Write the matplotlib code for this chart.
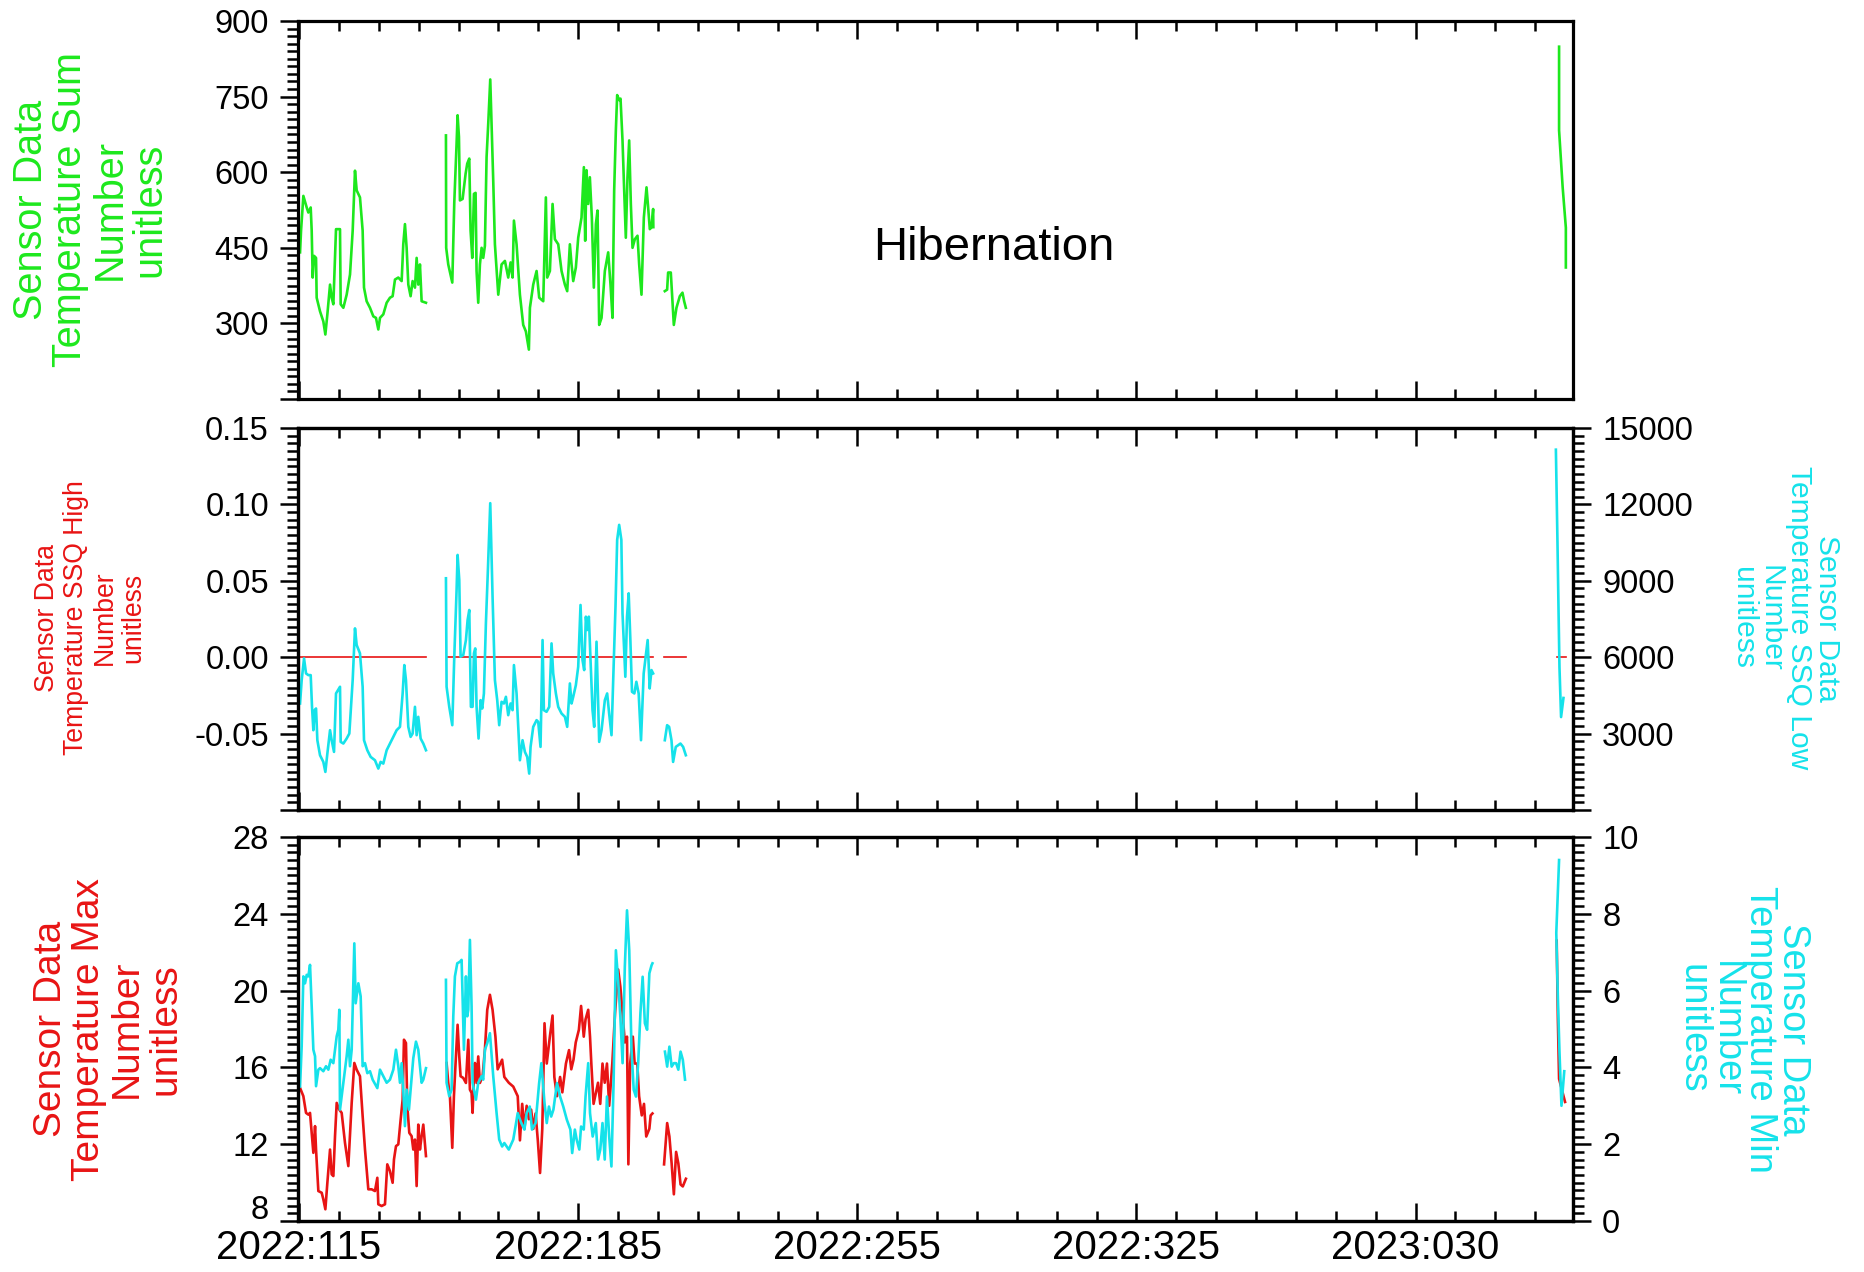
import numpy as np
import matplotlib.pyplot as plt
from matplotlib.ticker import MultipleLocator, FixedLocator
from matplotlib.transforms import ScaledTranslation

plt.rcParams['font.family'] = ['Liberation Sans', 'DejaVu Sans']

GREEN = '#1de81d'
CYAN = '#15e2ea'
RED = '#e81414'

# x = day of year counted from 2022-01-01 (2023:030 -> 395)
# every series is split in 4 pieces (gaps in the data)
sum_days = [
    [115.25, 115.5, 116.08, 116.92, 117.33, 117.92, 118.17, 118.42, 118.76, 119.26, 119.42, 120.26,
     121.09, 121.6, 122.1, 122.77, 123.18, 123.6, 124.27, 125.27, 125.44, 126.11, 126.94, 127.78,
     128.45, 129.03, 129.45, 130.28, 130.95, 131.29, 131.95, 132.79, 133.63, 134.29, 134.88, 135.3,
     136.13, 136.97, 137.8, 138.47, 139.06, 139.89, 140.73, 141.14, 141.56, 141.98, 142.4, 142.98,
     143.48, 144.07, 144.49, 144.9, 145.32, 145.74, 146.83],
    [151.84, 151.9, 152.42, 153.43, 153.93, 154.51, 154.76, 155.1, 155.35, 156.02, 156.77, 157.18,
     157.69, 158.02, 158.44, 158.86, 159.27, 159.52, 159.94, 160.36, 160.78, 161.19, 161.61, 162.03,
     162.45, 162.95, 163.7, 164.12, 164.96, 165.79, 166.63, 167.46, 168.05, 168.55, 168.89, 169.55,
     170.39, 171.22, 171.89, 172.64, 172.9, 173.73, 174.57, 175.23, 176.24, 176.9, 177.24, 177.91,
     178.58, 179.16, 180.0, 180.83, 181.67, 182.25, 182.92, 183.34, 183.76, 184.42, 185.01, 185.84,
     186.43, 186.76, 187.1, 187.51, 187.93, 188.43, 188.93, 189.44, 189.85, 190.27, 190.86, 191.69,
     192.53, 193.11, 193.61, 194.03, 194.45, 194.78, 195.28, 195.62, 196.12, 196.54, 196.95, 197.37,
     197.79, 198.21, 198.63, 199.21, 199.88, 200.3, 200.88, 201.47, 202.14, 202.55, 202.97, 203.39,
     203.8, 203.85],
    [206.73, 207.31, 207.56, 208.23, 208.99, 209.65, 210.49, 211.16, 211.58, 212.0],
    [431.0, 431.0, 431.9, 432.7, 432.7],
]
sum_vals = [
    [441, 484, 553, 530, 520, 530, 484, 391, 434, 430, 351, 324,
     304, 278, 318, 377, 351, 338, 487, 487, 338, 331, 357, 397,
     484, 603, 564, 550, 484, 371, 344, 331, 314, 311, 288, 311,
     318, 341, 351, 354, 387, 391, 384, 457, 497, 450, 377, 354,
     384, 371, 430, 377, 417, 344, 341],
    [673, 450, 417, 381, 540, 657, 713, 670, 544, 547, 597, 617,
     627, 484, 430, 557, 559, 404, 341, 417, 450, 430, 454, 630,
     697, 784, 583, 457, 357, 417, 424, 391, 421, 391, 504, 457,
     357, 297, 284, 248, 331, 377, 404, 351, 344, 550, 391, 404,
     537, 467, 457, 404, 377, 364, 457, 417, 384, 411, 470, 510,
     610, 464, 604, 537, 590, 510, 371, 497, 524, 297, 311, 404,
     441, 377, 311, 564, 683, 753, 743, 746, 663, 564, 470, 590,
     663, 537, 450, 467, 474, 417, 357, 510, 570, 530, 487, 491,
     527, 491],
    [364, 367, 401, 401, 297, 331, 354, 361, 344, 331],
    [849, 683, 570, 490, 411],
]

ssql_days = [
    [115.25, 115.66, 116.25, 116.75, 117.33, 117.92, 118.25, 118.59, 118.92, 119.26, 119.59, 120.26,
     121.09, 121.6, 122.1, 122.77, 123.18, 123.77, 124.27, 125.27, 125.44, 126.11, 126.94, 127.61,
     128.45, 129.03, 129.45, 130.28, 130.95, 131.29, 132.12, 132.96, 134.04, 134.88, 135.46, 136.13,
     136.97, 137.8, 138.64, 139.47, 140.31, 140.98, 141.4, 141.81, 142.4, 142.98, 143.48, 144.07,
     144.49, 144.9, 145.49, 146.16, 146.83],
    [151.84, 152.0, 152.67, 153.43, 153.93, 154.51, 154.76, 155.18, 155.51, 156.18, 156.85, 157.27,
     157.69, 158.1, 158.52, 158.86, 159.19, 159.52, 160.02, 160.53, 160.94, 161.36, 161.86, 162.36,
     162.95, 163.53, 164.12, 164.7, 165.2, 165.79, 166.37, 166.88, 167.46, 168.05, 168.55, 168.89,
     169.55, 170.39, 171.05, 171.64, 172.22, 172.72, 173.06, 173.73, 174.57, 174.98, 175.56, 176.07,
     176.4, 177.07, 177.74, 178.32, 178.74, 179.41, 180.0, 180.83, 181.67, 182.25, 182.92, 183.34,
     183.76, 184.42, 185.01, 185.59, 186.09, 186.51, 186.93, 187.26, 187.68, 188.1, 188.6, 189.02,
     189.6, 190.27, 190.86, 191.69, 192.27, 192.77, 193.36, 193.94, 194.36, 194.78, 195.28, 195.83,
     196.12, 196.83, 197.25, 197.67, 198.09, 198.5, 199.09, 199.59, 200.17, 200.76, 201.43, 201.93,
     202.43, 202.93, 203.39, 203.8],
    [206.73, 207.31, 207.81, 208.4, 208.81, 209.48, 210.07, 210.65, 211.32, 212.0],
    [430.2, 430.6, 430.9, 431.1, 431.5, 432.1],
]
ssql_vals = [
    [4183, 5101, 5953, 5363, 5297, 5297, 4052, 3134, 3921, 3987, 2741, 2151,
     1889, 1496, 2217, 3134, 2741, 2282, 4577, 4839, 2675, 2610, 2807, 3003,
     5101, 7133, 6478, 6150, 4839, 2741, 2347, 2085, 1954, 1627, 1889, 1823,
     2347, 2610, 2872, 3134, 3266, 4577, 5691, 5101, 3266, 2872, 3003, 4052,
     2938, 3659, 2807, 2610, 2347],
    [9100, 4839, 4052, 3331, 6019, 8641, 10017, 9034, 6019, 6084, 6674, 7461,
     7854, 4052, 4052, 6150, 6346, 4052, 2807, 4314, 3987, 4577, 7330, 9427,
     12049, 8378, 5101, 4314, 3331, 4249, 4183, 4445, 3724, 4183, 3921, 5691,
     4577, 1954, 2741, 2282, 2085, 1430, 2479, 3266, 3528, 3462, 2479, 6674,
     3921, 3856, 4052, 6543, 5363, 4577, 4052, 3790, 3659, 3266, 4970, 4183,
     4445, 4904, 5625, 8051, 5887, 5494, 7592, 7068, 7592, 5887, 3921, 3266,
     6609, 2675, 3134, 4314, 4577, 3790, 2938, 5887, 7985, 10607, 11197, 10607,
     7723, 5232, 7592, 8510, 6674, 4642, 4577, 5035, 4577, 2741, 5363, 6019,
     6674, 4773, 5494, 5363],
    [2741, 3331, 3266, 2741, 1889, 2479, 2544, 2610, 2479, 2151],
    [14150, 10500, 7500, 5600, 3650, 4400],
]

ssqh_days = [[115.25, 146.83], [152.0, 203.8], [206.6, 212.0], [430.4, 432.7]]
ssqh_vals = [[0.0, 0.0], [0.0, 0.0], [0.0, 0.0], [0.0, 0.0]]

tmax_days = [
    [115.25, 116.08, 116.75, 117.33, 117.75, 118.17, 118.59, 119.01, 119.26, 119.84, 120.68, 121.09,
     121.6, 122.1, 122.77, 123.18, 123.6, 124.02, 124.44, 125.1, 125.69, 126.52, 127.36, 128.2,
     128.86, 129.45, 130.28, 130.95, 131.54, 132.37, 133.21, 134.04, 134.63, 134.88, 135.71, 136.55,
     137.13, 137.8, 138.47, 138.81, 139.31, 139.89, 140.48, 140.98, 141.31, 141.81, 142.15, 142.65,
     143.23, 143.65, 144.07, 144.49, 144.9, 145.32, 145.74, 146.16, 146.83],
    [152.0, 152.42, 152.84, 153.43, 153.84, 154.26, 154.76, 155.18, 155.51, 156.18, 156.85, 157.44,
     157.85, 158.27, 158.52, 158.86, 159.11, 159.52, 159.94, 160.36, 161.03, 161.61, 162.2, 162.87,
     163.53, 164.25, 164.81, 165.93, 166.48, 167.6, 168.72, 169.84, 170.4, 170.96, 171.52, 172.08,
     172.64, 173.2, 173.76, 174.32, 174.88, 175.44, 176.0, 176.56, 177.12, 177.9, 178.57, 179.02,
     179.69, 180.47, 181.03, 181.93, 182.71, 183.27, 183.83, 184.39, 185.18, 185.73, 186.4, 186.85,
     187.52, 187.97, 188.3, 188.86, 189.98, 190.54, 191.1, 191.66, 192.22, 192.78, 193.56, 194.24,
     195.02, 195.58, 196.14, 196.7, 197.25, 197.59, 198.04, 198.71, 199.16, 199.83, 200.28, 200.95,
     201.51, 202.07, 202.85, 203.18, 203.63],
    [206.54, 207.32, 207.88, 208.44, 209.0, 209.56, 210.12, 210.68, 211.24, 212.02],
    [430.4, 430.7, 431.0, 432.5],
]
tmax_vals = [
    [14.93, 14.5, 13.63, 13.54, 13.63, 12.59, 11.55, 12.94, 11.72, 9.56, 9.47, 9.13,
     8.61, 9.99, 11.72, 10.43, 10.34, 12.42, 14.15, 13.8, 13.63, 12.07, 10.86, 14.15,
     16.23, 15.88, 15.54, 13.46, 11.72, 9.65, 9.65, 9.56, 10.25, 8.87, 8.78, 8.87,
     10.95, 10.6, 9.99, 11.21, 11.9, 11.99, 13.28, 14.32, 17.44, 17.27, 13.98, 12.59,
     12.42, 11.72, 12.24, 9.82, 13.02, 11.72, 12.42, 13.02, 11.38],
    [16.23, 15.19, 14.5, 11.81, 14.5, 16.23, 18.22, 16.57, 15.54, 15.45, 15.19, 17.44,
     14.84, 14.67, 13.63, 15.54, 16.23, 15.19, 16.57, 15.19, 15.54, 16.92, 19.0, 19.78,
     19.0, 17.6, 15.9, 16.4, 15.5, 15.2, 15.0, 14.5, 12.2, 14.1, 12.8, 14.0,
     13.3, 13.8, 12.8, 13.6, 12.2, 10.5, 12.8, 18.3, 16.2, 17.6, 18.7, 15.5,
     14.5, 15.5, 14.7, 16.2, 16.9, 15.9, 16.4, 17.3, 17.96, 19.2, 17.6, 18.5,
     19.0, 17.6, 16.2, 14.1, 15.2, 14.1, 16.2, 15.2, 16.2, 14.0, 16.2, 18.8,
     21.1, 20.2, 18.8, 17.3, 17.6, 10.95, 16.2, 17.6, 16.2, 16.2, 14.5, 13.5,
     14.1, 12.4, 12.8, 13.5, 13.6],
    [10.95, 13.1, 12.4, 11.0, 9.39, 11.6, 11.0, 9.9, 9.8, 10.2],
    [22.6, 18.5, 15.4, 14.2],
]

tmin_days = [
    [115.25, 115.66, 116.08, 116.5, 116.92, 117.33, 117.75, 118.17, 118.59, 119.01, 119.26, 119.84,
     120.26, 121.09, 121.76, 122.35, 122.93, 123.6, 124.44, 124.85, 125.1, 125.27, 126.11, 126.94,
     127.36, 127.78, 128.2, 128.86, 129.2, 129.87, 130.45, 130.95, 131.54, 132.12, 132.79, 133.46,
     134.63, 135.3, 136.13, 136.97, 137.8, 138.64, 139.31, 139.89, 140.31, 140.73, 141.14, 141.56,
     141.98, 142.56, 142.98, 143.65, 144.32, 144.9, 145.74, 146.16, 146.83],
    [151.84, 152.0, 152.67, 153.26, 153.68, 154.09, 154.68, 155.35, 155.76, 156.01, 156.35, 156.85,
     157.18, 157.44, 157.85, 158.27, 158.52, 158.86, 159.36, 159.94, 160.36, 160.78, 161.19, 161.61,
     162.2, 162.87, 163.7, 164.54, 165.2, 165.93, 166.48, 167.6, 168.72, 169.28, 169.84, 170.74,
     171.52, 172.08, 172.86, 173.42, 174.32, 175.21, 175.77, 176.56, 177.12, 177.67, 178.23, 178.79,
     179.69, 180.47, 181.26, 182.15, 183.05, 183.5, 184.17, 184.62, 185.29, 185.73, 186.4, 186.85,
     187.52, 187.97, 188.64, 189.42, 189.98, 190.54, 191.1, 191.66, 192.22, 192.78, 193.34, 193.9,
     194.46, 195.02, 195.58, 196.14, 196.7, 197.25, 197.81, 198.37, 198.93, 199.49, 200.05, 200.61,
     201.17, 201.73, 202.29, 202.85, 203.41, 203.63],
    [206.76, 207.32, 207.88, 208.44, 209.0, 209.56, 210.12, 210.68, 211.24, 211.8],
    [431.0, 430.3, 430.7, 431.1, 431.6, 432.3],
]
tmin_vals = [
    [3.5, 4.55, 6.37, 6.19, 6.41, 6.37, 6.67, 5.59, 4.46, 4.29, 3.51, 3.94,
     3.98, 3.9, 4.03, 3.94, 4.2, 4.11, 4.81, 4.98, 5.5, 2.9, 3.6, 4.29,
     4.72, 4.03, 4.46, 7.23, 5.67, 6.19, 5.85, 4.03, 4.11, 3.85, 3.9, 3.68,
     3.46, 3.94, 3.77, 3.6, 3.68, 3.94, 4.46, 4.03, 3.6, 4.11, 3.42, 2.47,
     3.42, 2.9, 3.42, 4.24, 4.67, 4.46, 3.6, 3.68, 3.98],
    [6.28, 3.6, 3.25, 3.42, 5.33, 6.37, 6.71, 6.75, 6.8, 5.85, 4.46, 6.37,
     5.33, 5.5, 7.32, 5.59, 3.6, 3.42, 3.16, 3.6, 3.68, 3.77, 3.68, 4.46,
     4.63, 4.89, 3.77, 2.81, 2.12, 1.94, 2.03, 1.86, 2.12, 2.46, 2.81, 2.55,
     2.38, 2.81, 2.98, 2.38, 2.55, 3.59, 4.11, 3.07, 2.55, 2.98, 2.72, 2.9,
     3.59, 3.24, 2.98, 2.64, 2.38, 1.77, 2.38, 2.12, 1.86, 2.46, 2.38, 3.24,
     4.11, 2.81, 2.2, 2.55, 1.6, 1.86, 2.55, 1.6, 3.24, 2.2, 1.42, 3.68,
     7.05, 6.27, 5.32, 4.11, 6.62, 8.09, 7.05, 4.46, 3.42, 3.24, 4.11, 5.41,
     6.36, 5.15, 4.98, 6.45, 6.66, 6.71],
    [4.41, 4.02, 4.54, 4.02, 4.11, 4.11, 3.94, 4.41, 4.2, 3.68],
    [9.4, 7.5, 5.8, 4.4, 3.0, 3.9],
]

xticks = [115, 185, 255, 325, 395]
xticklabels = ['2022:115', '2022:185', '2022:255', '2022:325', '2023:030']
xminor = list(range(115, 435, 10))

fig = plt.figure(figsize=(18.64, 12.72), dpi=100)
left, width = 0.1599, 0.684
ax1 = fig.add_axes([left, 0.6863, width, 0.2972])
ax2 = fig.add_axes([left, 0.3632, width, 0.3003])
ax3 = fig.add_axes([left, 0.0401, width, 0.3019])

LW = 1.9
YLAB = 23.5


def draw(ax, days, vals, color, lw=LW):
    for d, v in zip(days, vals):
        ax.plot(d, v, color=color, lw=lw)


def yticks_style(ax):
    ax.tick_params(axis='y', which='both', direction='out', width=1.8, labelsize=YLAB, pad=8)
    ax.tick_params(axis='y', which='major', length=13)
    ax.tick_params(axis='y', which='minor', length=8)
    for s in ax.spines.values():
        s.set_linewidth(2.3)


def frame(ax):
    ax.set_xlim(114.75, 434.5)
    ax.xaxis.set_major_locator(FixedLocator(xticks))
    ax.xaxis.set_minor_locator(FixedLocator(xminor))
    ax.tick_params(axis='x', which='both', direction='in', top=True, bottom=True,
                   width=1.8, color='black')
    ax.tick_params(axis='x', which='major', length=13)
    ax.tick_params(axis='x', which='minor', length=7.2)
    yticks_style(ax)


def yaxis(ax, lo, hi, step, show_bottom=True, fmt='{:g}'):
    ticks = list(np.arange(lo, hi + step / 2, step))
    labels = [fmt.format(t) for t in ticks]
    if not show_bottom:
        labels[0] = ''
    ax.set_ylim(lo, hi)
    ax.set_yticks(ticks, labels=labels)
    ax.yaxis.set_minor_locator(MultipleLocator(step / 10))


# panel 1
draw(ax1, sum_days, sum_vals, GREEN)
frame(ax1)
yaxis(ax1, 150, 900, 150, show_bottom=False)
ax1.tick_params(labelbottom=False)
ax1.text(0.546, 0.40, 'Hibernation', transform=ax1.transAxes, fontsize=34,
         ha='center', va='center', color='black')

# panel 2
draw(ax2, ssqh_days, ssqh_vals, RED, lw=1.2)
frame(ax2)
yaxis(ax2, -0.10, 0.15, 0.05, show_bottom=False, fmt='{:.2f}')
ax2.tick_params(labelbottom=False)
ax2r = ax2.twinx()
draw(ax2r, ssql_days, ssql_vals, CYAN)
yaxis(ax2r, 0, 15000, 3000, show_bottom=False)
yticks_style(ax2r)

# panel 3
draw(ax3, tmax_days, tmax_vals, RED)
frame(ax3)
yaxis(ax3, 8, 28, 4)
ax3.set_xticks(xticks, labels=xticklabels)
ax3.tick_params(axis='x', labelsize=29, pad=6)
ax3r = ax3.twinx()
draw(ax3r, tmin_days, tmin_vals, CYAN)
yaxis(ax3r, 0, 10, 2)
yticks_style(ax3r)

# lift the bottom "8" a little so it clears the date label below it
lab8 = ax3.yaxis.get_major_ticks()[0].label1
lab8.set_transform(lab8.get_transform() + ScaledTranslation(0, 10 / 72, fig.dpi_scale_trans))

# axis titles
fig.text(0.0483, 0.835, 'Sensor Data\nTemperature Sum\nNumber\nunitless', color=GREEN,
         fontsize=28.5, rotation=90, ha='center', va='center', multialignment='center',
         linespacing=1.05)
fig.text(0.0483, 0.5142, 'Sensor Data\nTemperature SSQ High\nNumber\nunitless', color=RED,
         fontsize=19.2, rotation=90, ha='center', va='center', multialignment='center',
         linespacing=1.15)
fig.text(0.9576, 0.5142, 'Sensor Data\nTemperature SSQ Low\nNumber\nunitless', color=CYAN,
         fontsize=21.6, rotation=270, ha='center', va='center', multialignment='center',
         linespacing=1.0)
fig.text(0.058, 0.191, 'Sensor Data\nTemperature Max\nNumber\nunitless', color=RED,
         fontsize=28, rotation=90, ha='center', va='center', multialignment='center',
         linespacing=1.08)
fig.text(0.935, 0.191, 'Sensor Data\nTemperature Min\nNumber\nunitless', color=CYAN,
         fontsize=27.5, rotation=270, ha='center', va='center', multialignment='center',
         linespacing=0.92)

fig.savefig('out.png', dpi=100)
